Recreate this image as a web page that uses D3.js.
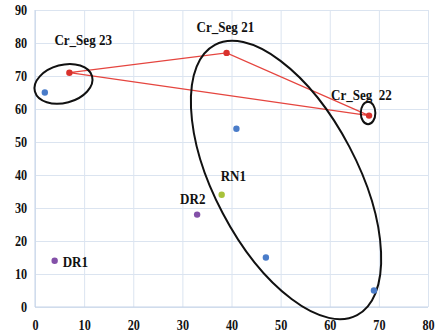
<!DOCTYPE html>
<html>
<head>
<meta charset="utf-8">
<script src="https://cdn.jsdelivr.net/npm/d3@7"></script>
<style>
  body { margin: 0; background: #fff; }
  text { font-family: "Liberation Serif", "DejaVu Serif", serif; font-weight: bold; }
</style>
</head>
<body>
<div id="chart"></div>
<script>
// point data
const xValues = [2, 7, 39, 68, 41, 38, 47, 69, 33, 4];
const yValues = [65, 71, 77, 58, 54, 34, 15, 5, 28, 14];
const groups = ["base", "seg", "seg", "seg", "base", "rn", "base", "base", "dr", "dr"];
const pointNames = ["", "Cr_Seg 23", "Cr_Seg 21", "Cr_Seg  22", "", "RN1", "", "", "DR2", "DR1"];

// axis ticks
const xTicks = [0, 10, 20, 30, 40, 50, 60, 70, 80];
const yTicks = [0, 10, 20, 30, 40, 50, 60, 70, 80, 90];

// order of the red triangle (indices into the points)
const segOrder = [1, 2, 3, 1];

// hand drawn rings, centre in data units
const ringCx = [5.8, 67.8, 51.1];
const ringCy = [67.6, 58.8, 38.5];

const width = 437, height = 335;
const margin = { top: 10, right: 9, bottom: 28, left: 35 };
const squeeze = 0.87; // text in the picture is a bit narrow

const colors = { base: "#4a7cc9", seg: "#d9322d", rn: "#a8c23a", dr: "#8350a8" };
// label offsets (px) from the point
const labelOffset = {
  "Cr_Seg 23": [-15, -28],
  "Cr_Seg 21": [-30, -21],
  "Cr_Seg  22": [-38, -16],
  "RN1": [-1, -14],
  "DR2": [-17, -11],
  "DR1": [8, 6]
};
const ringShape = [
  { rx: 29.6, ry: 19, angle: -15 },
  { rx: 7.3, ry: 11.2, angle: 0 },
  { rx: 152.7, ry: 71.5, angle: 62.25 }
];

const points = xValues.map((x, i) => ({ x, y: yValues[i], group: groups[i], name: pointNames[i] }));

const x = d3.scaleLinear().domain([0, 80]).range([margin.left, width - margin.right]);
const y = d3.scaleLinear().domain([0, 90]).range([height - margin.bottom, margin.top]);

const svg = d3.select("#chart").append("svg")
  .attr("width", width)
  .attr("height", height);

// grid + x labels
const gx = svg.append("g")
  .attr("transform", `translate(0,${height - margin.bottom})`)
  .call(d3.axisBottom(x).tickValues(xTicks).tickSize(-(height - margin.top - margin.bottom)).tickPadding(13));
gx.select(".domain").remove();
gx.selectAll("line").attr("stroke", "#dbe4f0");
gx.selectAll("text")
  .attr("font-size", 14).attr("fill", "#111")
  .attr("transform", `scale(${squeeze},1)`);

const gy = svg.append("g")
  .attr("transform", `translate(${margin.left},0)`)
  .call(d3.axisLeft(y).tickValues(yTicks).tickSize(-(width - margin.left - margin.right)).tickPadding(9));
gy.select(".domain").remove();
gy.selectAll("line").attr("stroke", "#dbe4f0");
gy.selectAll("text")
  .attr("font-size", 14).attr("fill", "#111")
  .attr("transform", `scale(${squeeze},1)`);

// axis lines
svg.append("line")
  .attr("x1", x(0)).attr("x2", x(80)).attr("y1", y(0)).attr("y2", y(0))
  .attr("stroke", "#c5d3e8");
svg.append("line")
  .attr("x1", x(0)).attr("x2", x(0)).attr("y1", y(0)).attr("y2", y(90))
  .attr("stroke", "#c5d3e8");

// red triangle
const line = d3.line().x(i => x(points[i].x)).y(i => y(points[i].y));
svg.append("path")
  .attr("d", line(segOrder))
  .attr("fill", "none")
  .attr("stroke", "#e5453f")
  .attr("stroke-width", 1.2);

// rings
svg.selectAll(".ring")
  .data(ringCx)
  .join("ellipse")
  .attr("class", "ring")
  .attr("cx", d => x(d))
  .attr("cy", (d, i) => y(ringCy[i]))
  .attr("rx", (d, i) => ringShape[i].rx)
  .attr("ry", (d, i) => ringShape[i].ry)
  .attr("transform", (d, i) => `rotate(${ringShape[i].angle},${x(d)},${y(ringCy[i])})`)
  .attr("fill", "none")
  .attr("stroke", "#111")
  .attr("stroke-width", 2);

// points
svg.selectAll(".pt")
  .data(points)
  .join("circle")
  .attr("class", "pt")
  .attr("cx", d => x(d.x))
  .attr("cy", d => y(d.y))
  .attr("r", 3.2)
  .attr("fill", d => colors[d.group]);

// labels
svg.selectAll(".lbl")
  .data(points.filter(d => d.name))
  .join("text")
  .attr("class", "lbl")
  .attr("transform", d => `translate(${x(d.x) + labelOffset[d.name][0]},${y(d.y) + labelOffset[d.name][1]}) scale(${squeeze},1)`)
  .attr("font-size", 15)
  .attr("fill", "#111")
  .style("white-space", "pre")
  .text(d => d.name);
</script>
</body>
</html>
